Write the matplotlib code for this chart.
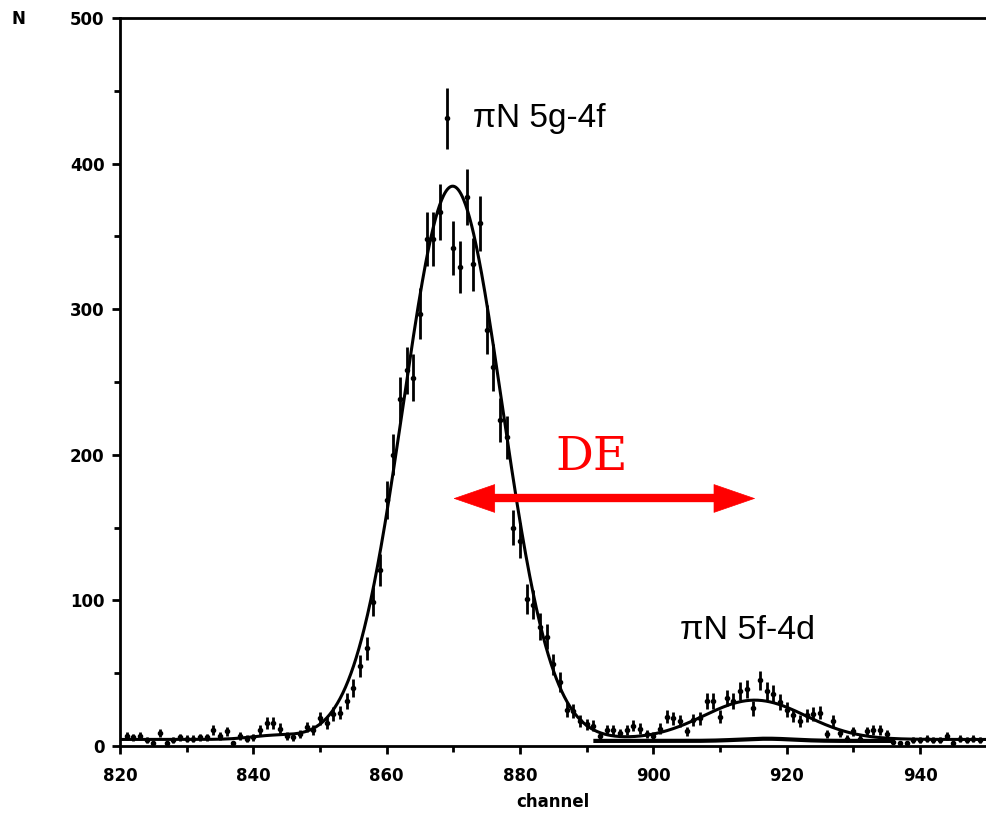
import numpy as np
import matplotlib
matplotlib.use("Agg")
import matplotlib.pyplot as plt

# measured spectrum, one point per channel (821..949)
channel = np.arange(821, 950)
counts = np.array([
    7, 6, 7, 4, 2, 9, 2, 4, 6, 5,            # 821-830
    5, 6, 6, 11, 7, 10, 2, 7, 5, 6,          # 831-840
    11, 16, 16, 12, 7, 6, 8, 13, 11, 19,     # 841-850
    16, 22, 23, 31, 40, 55, 67, 99, 121, 169,  # 851-860
    200, 238, 258, 253, 297, 348, 348, 367, 431, 342,  # 861-870
    329, 377, 331, 359, 286, 260, 224, 212, 150, 141,  # 871-880
    101, 97, 82, 75, 56, 44, 25, 24, 17, 15,  # 881-890
    14, 7, 11, 11, 9, 11, 14, 12, 8, 7,       # 891-900
    12, 20, 19, 17, 10, 18, 19, 31, 31, 20,   # 901-910
    33, 31, 38, 39, 26, 45, 38, 36, 30, 25,   # 911-920
    21, 17, 21, 22, 23, 8, 17, 9, 5, 10,      # 921-930
    5, 10, 11, 11, 8, 3, 2, 2, 4, 4,          # 931-940
    5, 4, 4, 7, 2, 5, 4, 5, 4,                # 941-949
], dtype=float)
errors = np.sqrt(np.maximum(counts, 1))

# fit parameters
bg = 4.5
peak1_pos, peak1_amp, peak1_sig = 869.9, 380.0, 7.4
peak2_pos, peak2_amp, peak2_sig = 915.2, 27.0, 7.6
peak3_pos, peak3_amp, peak3_sig = 843.0, 2.5, 3.5
comp_pos, comp_amp, comp_sig = 917.0, 1.5, 4.0

labels = ["\u03c0N 5g-4f", "\u03c0N 5f-4d"]


def gauss(x, a, m, s):
    return a * np.exp(-(x - m) ** 2 / (2 * s ** 2))


fig = plt.figure(figsize=(9.86, 8.24), dpi=100)
ax = fig.add_axes([120 / 986, 1 - 746 / 824, 866.7 / 986, 728 / 824])

xf = np.linspace(820, 950, 1300)
fit = bg + gauss(xf, peak1_amp, peak1_pos, peak1_sig) \
    + gauss(xf, peak2_amp, peak2_pos, peak2_sig) \
    + gauss(xf, peak3_amp, peak3_pos, peak3_sig)
ax.plot(xf, fit, color="black", lw=2.2, zorder=3)

xc = np.linspace(891, 936, 300)
ax.plot(xc, 3.5 + gauss(xc, comp_amp, comp_pos, comp_sig), color="black",
        lw=3.0, zorder=3, solid_capstyle="butt")

ax.errorbar(channel, counts, yerr=errors, fmt="o", ms=3, color="black",
            elinewidth=2.0, capsize=0, zorder=4)

# annotations
ax.text(872.9, 431, labels[0], fontsize=24, family="Liberation Sans",
        va="center", ha="left")
ax.text(904.0, 79, labels[1], fontsize=24.5, family="Liberation Sans",
        va="center", ha="left")
ax.text(890.7, 198, "DE", fontsize=34, family="DejaVu Serif", color="red",
        va="center", ha="center")
ax.plot([875.5, 909.5], [170, 170], color="red", lw=6, solid_capstyle="butt",
        zorder=5)
ax.annotate("", xy=(870.0, 170), xytext=(915.3, 170),
            arrowprops=dict(arrowstyle="<|-|>,head_length=1.45,head_width=0.5",
                            mutation_scale=20, color="red", lw=0.5,
                            shrinkA=0, shrinkB=0), zorder=5)

ax.set_xlim(820, 950)
ax.set_ylim(0, 500)
ax.set_xticks(np.arange(820, 941, 20))
ax.set_xticks(np.arange(830, 950, 10), minor=True)
ax.set_yticks(np.arange(0, 501, 100))
ax.set_yticks(np.arange(50, 500, 100), minor=True)

for s in ["left", "top", "bottom"]:
    ax.spines[s].set_linewidth(2.0)
ax.spines["right"].set_visible(False)
ax.tick_params(axis="both", which="major", direction="out", length=6, width=2,
               labelsize=12)
ax.tick_params(axis="both", which="minor", direction="out", length=4, width=2)
ax.tick_params(axis="x", pad=9)
ax.tick_params(axis="y", pad=5)
for lab in ax.get_xticklabels() + ax.get_yticklabels():
    lab.set_fontweight("bold")

ax.set_xlabel("channel", fontsize=12, fontweight="bold", labelpad=6)
fig.text(18 / 986, 1 - 19 / 824, "N", fontsize=12, fontweight="bold",
         ha="center", va="center")

fig.savefig("out.png", dpi=100)
